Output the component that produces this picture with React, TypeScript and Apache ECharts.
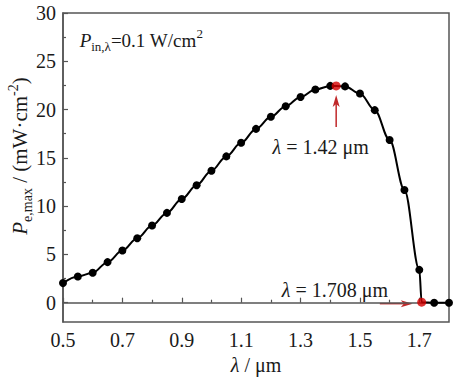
import React, { useEffect, useRef } from 'react';
import * as echarts from 'echarts';

// wavelength (µm)
const xVals = [0.5, 0.55, 0.6, 0.65, 0.7, 0.75, 0.8, 0.85, 0.9, 0.95, 1.0, 1.05, 1.1, 1.15, 1.2, 1.25, 1.3, 1.35, 1.4, 1.45, 1.5, 1.55, 1.6, 1.65, 1.7, 1.75, 1.8];
// Pe,max (mW/cm^2)
const yVals = [2.03, 2.72, 3.1, 4.2, 5.4, 6.68, 8.0, 9.3, 10.74, 12.17, 13.67, 15.15, 16.56, 18.0, 19.25, 20.35, 21.3, 22.07, 22.45, 22.4, 21.66, 19.94, 16.84, 11.67, 3.4, 0, 0];
const specialX = [1.42, 1.708];
const specialY = [22.45, 0.05];
const specialLabels = ['1.42', '1.708'];

const xMajorTicks = [0.5, 0.7, 0.9, 1.1, 1.3, 1.5, 1.7];
const xMinorTicks = [0.6, 0.8, 1.0, 1.2, 1.4, 1.6];
const yMajorTicks = [0, 5, 10, 15, 20, 25, 30];
const yMinorTicks = [2.5, 7.5, 12.5, 17.5, 22.5, 27.5];

const FONT = "'Liberation Serif', 'Times New Roman', 'DejaVu Serif', serif";
const AXIS_COLOR = '#555';
const TEXT = '#1a1a1a';
const RED = '#d40000';
const ARROW = '#c0282a';

export default function App() {
  const ref = useRef<HTMLDivElement>(null);
  useEffect(() => {
    if (!ref.current) return;
    const chart = echarts.init(ref.current, null, { renderer: 'svg' });

    const pts: any[] = xVals.map((x, i) => ({ value: [x, yVals[i]] }));
    specialX.forEach((x, i) => pts.push({ value: [x, specialY[i]], symbol: 'none' }));
    pts.sort((a, b) => a.value[0] - b.value[0]);

    const axisLine = { show: true, lineStyle: { color: AXIS_COLOR, width: 1.5 } };
    const tickStyle = { color: AXIS_COLOR, width: 1.2 };

    chart.setOption({
      animation: false,
      textStyle: { fontFamily: FONT },
      grid: { left: 63, top: 13, right: 8, bottom: 59, show: true, borderColor: AXIS_COLOR, borderWidth: 1.5, backgroundColor: 'transparent' },
      xAxis: [
        {
          type: 'value', min: 0.5, max: 1.8, position: 'bottom',
          axisLine,
          axisTick: { inside: true, length: 5, customValues: xMajorTicks, lineStyle: tickStyle },
          axisLabel: { customValues: xMajorTicks, fontSize: 20, color: TEXT, fontFamily: FONT, margin: 8, formatter: (v: number) => v.toFixed(1) },
          splitLine: { show: false },
          name: '{i|λ}{n| / μm}', nameLocation: 'middle', nameGap: 33,
          nameTextStyle: { fontFamily: FONT, rich: { i: { fontFamily: FONT, fontSize: 20, fontStyle: 'italic', color: TEXT }, n: { fontFamily: FONT, fontSize: 20, color: TEXT } } },
        },
        {
          type: 'value', min: 0.5, max: 1.8, position: 'bottom',
          axisLine: { show: false },
          axisTick: { inside: true, length: 3, customValues: xMinorTicks, lineStyle: tickStyle },
          axisLabel: { show: false },
          splitLine: { show: false },
        },
      ],
      yAxis: [
        {
          type: 'value', min: -2, max: 30, position: 'left',
          axisLine,
          axisTick: { inside: true, length: 5, customValues: yMajorTicks, lineStyle: tickStyle },
          axisLabel: { customValues: yMajorTicks, fontSize: 20, color: TEXT, fontFamily: FONT, margin: 7 },
          splitLine: { show: false },
        },
        {
          type: 'value', min: -2, max: 30, position: 'left',
          axisLine: { show: false },
          axisTick: { inside: true, length: 3, customValues: yMinorTicks, lineStyle: tickStyle },
          axisLabel: { show: false },
          splitLine: { show: false },
        },
      ],
      series: [
        {
          type: 'line', data: pts, smooth: 0.35, smoothMonotone: 'x',
          symbol: 'circle', symbolSize: 8, clip: false,
          lineStyle: { color: '#000', width: 2 },
          itemStyle: { color: '#000' }, z: 3,
        },
        {
          type: 'scatter', data: specialX.map((x, i) => [x, specialY[i]]),
          symbol: 'circle', symbolSize: 9, itemStyle: { color: RED }, z: 5,
        },
      ],
    });

    const px = (x: number, y: number) => chart.convertToPixel({ xAxisIndex: 0, yAxisIndex: 0 }, [x, y]) as number[];

    const graphics: any[] = [];
    // vertical arrow under peak
    const a1s = px(specialX[0], 18.2);
    const a1e = px(specialX[0], 21.5);
    graphics.push({ type: 'line', shape: { x1: a1s[0], y1: a1s[1], x2: a1e[0], y2: a1e[1] + 8 }, style: { stroke: ARROW, lineWidth: 1.5 } });
    graphics.push({ type: 'polygon', shape: { points: [[a1e[0], a1e[1]], [a1e[0] - 3.5, a1e[1] + 12], [a1e[0], a1e[1] + 9], [a1e[0] + 3.5, a1e[1] + 12]] }, style: { fill: ARROW } });
    // horizontal arrow to cutoff
    const a2s = px(1.567, -0.1);
    const a2e = px(1.678, -0.1);
    graphics.push({ type: 'line', shape: { x1: a2s[0], y1: a2s[1], x2: a2e[0] - 8, y2: a2e[1] }, style: { stroke: ARROW, lineWidth: 1.5 } });
    graphics.push({ type: 'polygon', shape: { points: [[a2e[0], a2e[1]], [a2e[0] - 12, a2e[1] - 3.5], [a2e[0] - 9, a2e[1]], [a2e[0] - 12, a2e[1] + 3.5]] }, style: { fill: ARROW } });

    const rich = {
      i: { fontFamily: FONT, fontSize: 20, fontStyle: 'italic', fill: TEXT },
      n: { fontFamily: FONT, fontSize: 20, fill: TEXT },
    };
    const t1 = px(1.368, 16.15);
    graphics.push({ type: 'text', x: t1[0], y: t1[1], style: { text: `{i|λ}{n| = ${specialLabels[0]} μm}`, fontFamily: FONT, rich, align: 'center', verticalAlign: 'middle' } });
    const t2 = px(1.416, 1.34);
    graphics.push({ type: 'text', x: t2[0], y: t2[1], style: { text: `{i|λ}{n| = ${specialLabels[1]} μm}`, fontFamily: FONT, rich, align: 'center', verticalAlign: 'middle' } });

    // P_in label
    const t3 = px(0.556, 27.2);
    graphics.push({
      type: 'text', x: t3[0], y: t3[1],
      style: {
        text: '{i|P}{s|in,λ}{n|=0.1 W/cm}{p|2}', align: 'left', verticalAlign: 'middle', fontFamily: FONT,
        rich: {
          i: { fontFamily: FONT, fontSize: 19, fontStyle: 'italic', fill: TEXT, lineHeight: 26, verticalAlign: 'middle' },
          s: { fontFamily: FONT, fontSize: 13, fill: TEXT, lineHeight: 26, verticalAlign: 'bottom' },
          n: { fontFamily: FONT, fontSize: 19, fill: TEXT, lineHeight: 26, verticalAlign: 'middle' },
          p: { fontFamily: FONT, fontSize: 13, fill: TEXT, lineHeight: 26, verticalAlign: 'top' },
        },
      },
    });

    // y axis title
    graphics.push({
      type: 'text', x: 20, y: 156, rotation: Math.PI / 2,
      style: {
        text: '{i|P}{s|e,max}{n| / (mW·cm}{p|-2}{n|)}', align: 'center', verticalAlign: 'middle', fontFamily: FONT,
        rich: {
          i: { fontFamily: FONT, fontSize: 21, fontStyle: 'italic', fill: TEXT, lineHeight: 28, verticalAlign: 'middle' },
          s: { fontFamily: FONT, fontSize: 14, fill: TEXT, lineHeight: 28, verticalAlign: 'bottom' },
          n: { fontFamily: FONT, fontSize: 21, fill: TEXT, lineHeight: 28, verticalAlign: 'middle' },
          p: { fontFamily: FONT, fontSize: 14, fill: TEXT, lineHeight: 28, verticalAlign: 'top' },
        },
      },
    });

    chart.setOption({ graphic: graphics });

    return () => chart.dispose();
  }, []);
  return <div ref={ref} style={{ width: 457, height: 381, position: 'absolute', left: 0, top: 0 }} />;
}
